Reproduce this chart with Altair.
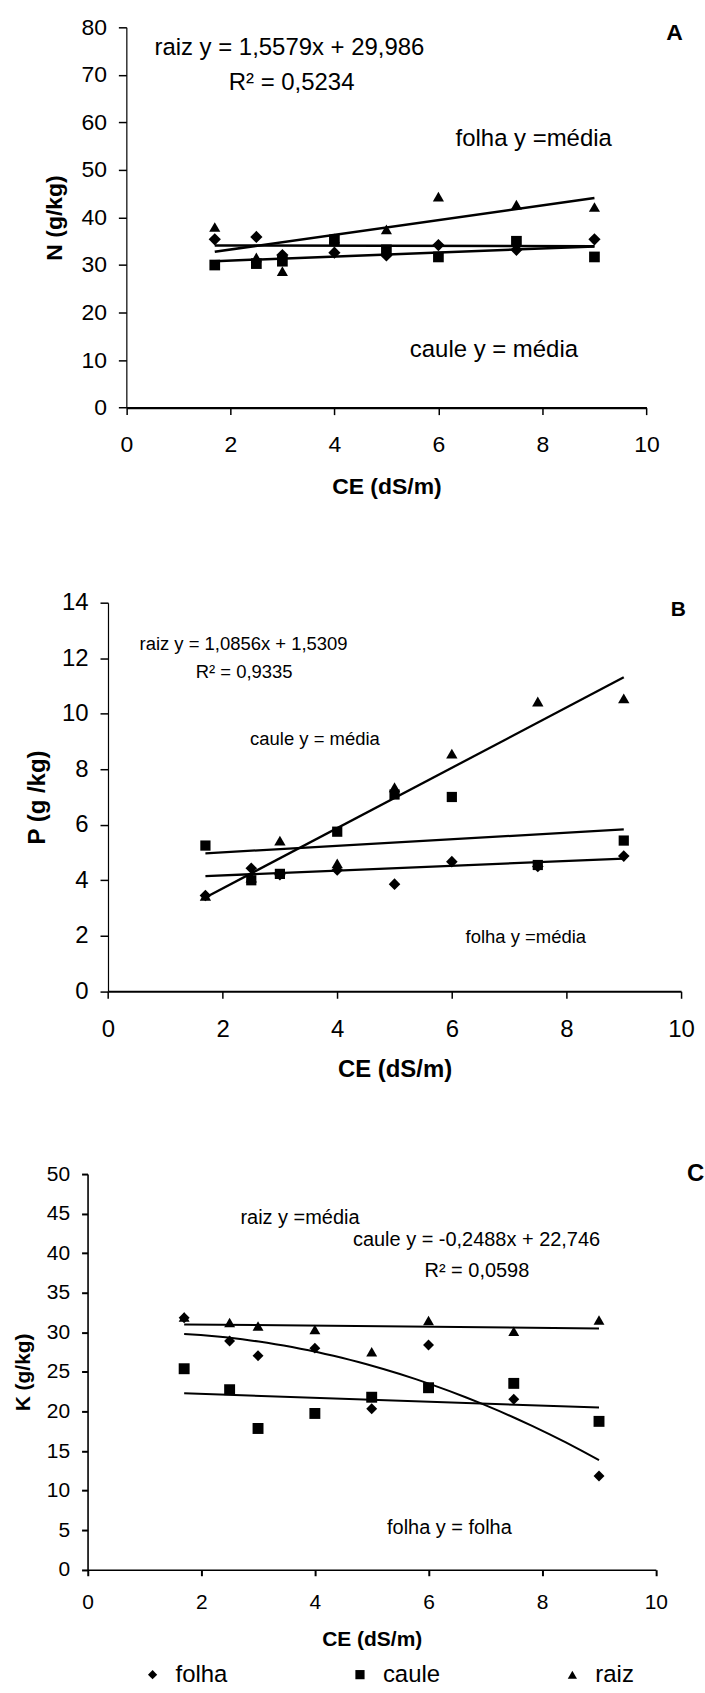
import altair as alt
import pandas as pd

FONT = "Liberation Sans"

# ---------------- data ----------------
CE = [1.7, 2.5, 3, 4, 5, 6, 7.5, 9]
SERIES = ["folha", "caule", "raiz"]
SHAPES = ["diamond", "square", "triangle-up"]
X_TICKS = [0, 2, 4, 6, 8, 10]
TREND_X = [1.7, 9]

# Panel A - N (g/kg)
N_folha = [35.4, 35.9, 32.1, 32.6, 32.0, 34.2, 33.2, 35.4]
N_caule = [30.0, 30.3, 30.8, 35.3, 33.2, 31.7, 35.0, 31.7]
N_raiz = [38.0, 31.6, 28.7, 35.6, 37.5, 44.4, 42.7, 42.2]
N_trend_folha = [34.1, 33.95]
N_trend_caule = [30.8, 33.9]
N_trend_raiz = [32.8, 44.1]
N_ticks = [0, 10, 20, 30, 40, 50, 60, 70, 80]
N_notes = ["raiz y = 1,5579x + 29,986", "R² = 0,5234", "folha y =média", "caule y = média"]
N_notes_x = [0.54, 1.97, 6.33, 5.45]
N_notes_y = [75.6, 68.3, 56.4, 12.1]

# Panel B - P (g/kg)
P_folha = [3.45, 4.43, 4.2, 4.37, 3.86, 4.67, 4.5, 4.87]
P_caule = [5.25, 4.0, 4.23, 5.75, 7.09, 7.0, 4.55, 5.43]
P_raiz = [3.44, 4.1, 5.43, 4.61, 7.35, 8.56, 10.44, 10.55]
P_trend_folha = [4.15, 4.78]
P_trend_caule = [4.97, 5.83]
P_trend_raiz = [3.38, 11.31]
P_ticks = [0, 2, 4, 6, 8, 10, 12, 14]
P_notes = ["raiz y = 1,0856x + 1,5309", "R² = 0,9335", "caule y = média", "folha y =média"]
P_notes_x = [0.55, 1.53, 2.48, 6.24]
P_notes_y = [12.5, 11.52, 9.09, 1.96]

# Panel C - K (g/kg)
K_folha = [31.85, 28.9, 27.05, 28.0, 20.35, 28.4, 21.55, 11.85]
K_caule = [25.4, 22.75, 17.85, 19.75, 21.8, 23.0, 23.55, 18.75]
K_raiz = [31.95, 31.25, 30.8, 30.35, 27.55, 31.5, 30.15, 31.55]
K_trend_caule = [22.3, 20.5]
K_trend_raiz = [31.0, 30.5]
K_ticks = [0, 5, 10, 15, 20, 25, 30, 35, 40, 45, 50]
K_notes = ["raiz y =média", "caule y = -0,2488x + 22,746", "R² = 0,0598", "folha y = folha"]
K_notes_x = [2.69, 4.67, 5.93, 5.27]
K_notes_y = [44.4, 41.7, 37.8, 5.3]

LETTERS = ["A", "B", "C"]
LETTER_X = [10.54, 9.95, 10.70]
LETTER_Y = [78.9, 13.75, 50.0]


def points_df(f, c, r):
    rows = []
    for s, vals in zip(SERIES, [f, c, r]):
        for x, v in zip(CE, vals):
            rows.append({"ce": x, "value": v, "series": s})
    return pd.DataFrame(rows)


def trend_df(trends):
    rows = []
    for s, vals in trends.items():
        for x, v in zip(TREND_X, vals):
            rows.append({"ce": x, "value": v, "series": s})
    return pd.DataFrame(rows)


def spacer(h):
    return alt.Chart(pd.DataFrame({"s": [0]})).mark_point(
        opacity=0, size=0, strokeWidth=0
    ).encode(x=alt.value(0), y=alt.value(0)).properties(width=1, height=h)


def panel(pts, trends, notes, nx, ny, letter, lx, ly, ymax, yticks, xtitle, ytitle,
          st, x0, x1, height, curve=False, legend=False):
    xs = alt.Scale(domain=[0, 10], range=[x0, x1], nice=False, zero=False)
    ys = alt.Scale(domain=[0, ymax], nice=False, zero=False)
    xaxis = alt.Axis(values=X_TICKS, title=xtitle, grid=False, domainColor="black",
                     domainWidth=st["xdw"], tickColor="black", tickWidth=st["tw"],
                     tickSize=st["xts"], labelFont=FONT, labelFontSize=st["lfs"],
                     labelColor="black", labelPadding=st["xlp"], labelBaseline="middle",
                     labelFlush=False, labelOverlap=False, titleFont=FONT,
                     titleFontSize=st["tfs"], titleFontWeight="bold", titleColor="black",
                     titleY=st["xty"], titleBaseline="middle")
    yaxis = alt.Axis(values=yticks, title=ytitle, grid=False, domainColor="black",
                     domainWidth=st["ydw"], tickColor="black", tickWidth=st["tw"],
                     tickSize=st["yts"], labelFont=FONT, labelFontSize=st["lfs"],
                     labelColor="black", labelPadding=12, labelFlush=False,
                     labelOverlap=False, titleFont=FONT, titleFontSize=st["tfs"],
                     titleFontWeight="bold", titleColor="black", titleX=st["ytx"],
                     titleBaseline="middle", titleAngle=270, offset=-x0)
    X = alt.X("ce:Q", scale=xs, axis=xaxis)
    Y = alt.Y("value:Q", scale=ys, axis=yaxis)

    layers = []
    tdf = trend_df(trends)
    layers.append(alt.Chart(tdf).mark_line(color="black", strokeWidth=st["lw"]).encode(
        x=X, y=Y, detail="series:N"))
    if curve:
        layers.append(alt.Chart(pts).transform_filter(alt.datum.series == "folha")
                      .transform_regression("ce", "value", method="poly", order=2,
                                            extent=[1.7, 9])
                      .mark_line(color="black", strokeWidth=st["lw"]).encode(x=X, y=Y))
    if legend:
        layers.append(alt.Chart(pts).mark_point(filled=True, color="black", opacity=1,
                                                size=st["sizes"][0]).encode(
            x=X, y=Y,
            shape=alt.Shape("series:N", sort=SERIES,
                            scale=alt.Scale(domain=SERIES, range=SHAPES),
                            legend=alt.Legend(title=None, orient="none", legendX=141,
                                              legendY=490, direction="horizontal",
                                              symbolSize=85, symbolFillColor="black",
                                              symbolStrokeColor="black", symbolStrokeWidth=0,
                                              labelFont=FONT, labelFontSize=24,
                                              labelColor="black", labelOffset=11,
                                              columnPadding=120, padding=0))))
    else:
        for s, sh, sz in zip(SERIES, SHAPES, st["sizes"]):
            layers.append(alt.Chart(pts).transform_filter(alt.datum.series == s)
                          .mark_point(filled=True, color="black", opacity=1, shape=sh, size=sz)
                          .encode(x=X, y=Y))
    ndf = pd.DataFrame({"text": notes, "ce": nx, "value": ny})
    layers.append(alt.Chart(ndf).mark_text(align="left", baseline="middle", font=FONT,
                                           fontSize=st["nfs"], color="black").encode(
        x=X, y=Y, text="text:N"))
    ldf = pd.DataFrame({"text": [letter], "ce": [lx], "value": [ly]})
    layers.append(alt.Chart(ldf).mark_text(align="center", baseline="middle", font=FONT,
                                           fontSize=st["letfs"], fontWeight="bold",
                                           color="black").encode(x=X, y=Y, text="text:N"))
    return alt.layer(*layers).properties(width=x1, height=height)


stA = dict(xdw=2.3, ydw=1.2, tw=1.5, xts=7, yts=8, lfs=23, xlp=30, tfs=23, xty=79,
           ytx=-71.7, lw=2.5, sizes=[150, 115, 125], nfs=24, letfs=23)
stB = dict(xdw=2, ydw=1.2, tw=1.5, xts=7, yts=8, lfs=24, xlp=31, tfs=24, xty=78,
           ytx=-70.3, lw=2.3, sizes=[135, 105, 130], nfs=18.5, letfs=21)
stC = dict(xdw=1.6, ydw=1.6, tw=2, xts=6, yts=6, lfs=21, xlp=27, tfs=21, xty=70,
           ytx=-63.8, lw=2, sizes=[120, 120, 120], nfs=20, letfs=24)

panelA = panel(points_df(N_folha, N_caule, N_raiz),
               {"folha": N_trend_folha, "caule": N_trend_caule, "raiz": N_trend_raiz},
               N_notes, N_notes_x, N_notes_y, LETTERS[0], LETTER_X[0], LETTER_Y[0],
               80, N_ticks, "CE (dS/m)", "N (g/kg)", stA, 126.7, 648.3, 381.4)
panelB = panel(points_df(P_folha, P_caule, P_raiz),
               {"folha": P_trend_folha, "caule": P_trend_caule, "raiz": P_trend_raiz},
               P_notes, P_notes_x, P_notes_y, LETTERS[1], LETTER_X[1], LETTER_Y[1],
               14, P_ticks, "CE  (dS/m)", "P (g /kg)", stB, 108.3, 683.0, 389.7)
panelC = panel(points_df(K_folha, K_caule, K_raiz),
               {"caule": K_trend_caule, "raiz": K_trend_raiz},
               K_notes, K_notes_x, K_notes_y, LETTERS[2], LETTER_X[2], LETTER_Y[2],
               50, K_ticks, "CE (dS/m)", "K (g/kg)", stC, 87.8, 657.7, 396.8,
               curve=True, legend=True)

chart = alt.vconcat(
    spacer(24.3), panelA, spacer(194.3), panelB, spacer(183), panelC,
    spacing=0, bounds="flush"
).resolve_legend(shape="independent").properties(padding=0).configure(
    background="white", font=FONT
).configure_view(stroke=None)

chart.save("out.html", embed_options={"renderer": "svg", "actions": False})
